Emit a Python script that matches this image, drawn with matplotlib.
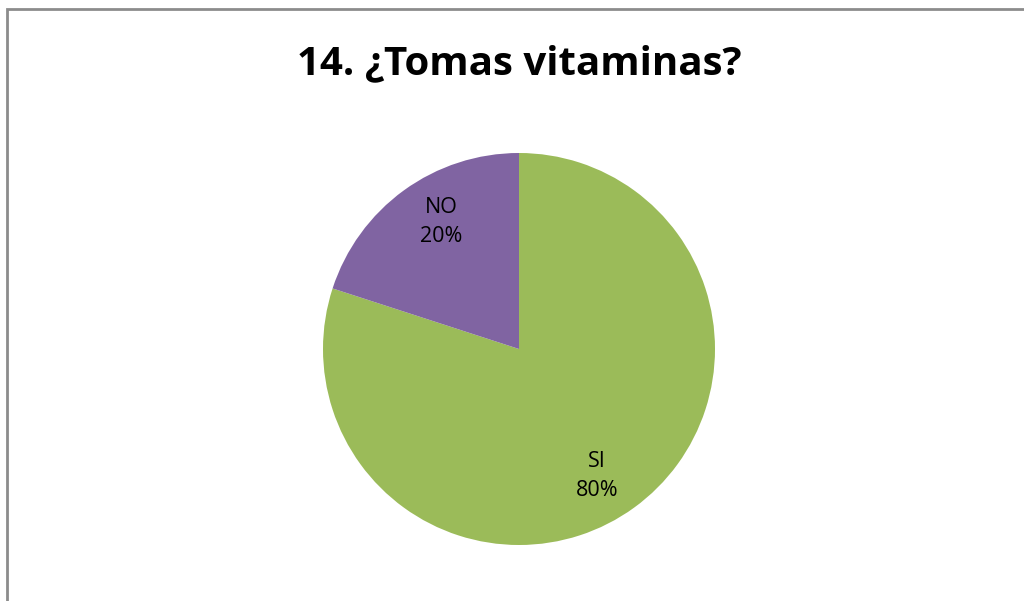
import numpy as np
import matplotlib.pyplot as plt
from matplotlib.patches import Rectangle

# Datos de la encuesta
categorias = ["SI", "NO"]
valores = [80, 20]
colores = ["#9BBB59", "#8064A2"]
titulo = "14. ¿Tomas vitaminas?"

plt.rcParams['font.family'] = ['Open Sans', 'DejaVu Sans']

fig = plt.figure(figsize=(10.24, 6.01), dpi=100)
W, H = 1024, 601

# Marco gris del grafico
marco = Rectangle((7 / W, -0.1), 1.2, 1.1 - 9 / H, transform=fig.transFigure,
                  fill=False, edgecolor="#8c8c8c", linewidth=2)
fig.patches.append(marco)

# Ejes del pastel: centro (519, 349), radio 196 px
cx, cy, r = 519, 349, 196
ax = fig.add_axes([(cx - r) / W, (H - cy - r) / H, 2 * r / W, 2 * r / H])
wedges, texts, autotexts = ax.pie(valores, colors=colores, startangle=90,
                                  counterclock=False, autopct='%1.0f%%',
                                  pctdistance=0.76, radius=1.0)
# Etiquetas un poco giradas, como en Excel
giro = np.deg2rad(-4.5)
for t, lab in zip(autotexts, categorias):
    t.set_text(f"{lab}\n{t.get_text()}")
    t.set_fontsize(15.5)
    t.set_linespacing(1.45)
    x, y = t.get_position()
    t.set_position((x * np.cos(giro) - y * np.sin(giro),
                    x * np.sin(giro) + y * np.cos(giro)))
ax.set_xlim(-1, 1)
ax.set_ylim(-1, 1)
ax.set_aspect('equal')
ax.axis('off')

fig.text(519 / W, 1 - 64 / H, titulo, ha='center', va='center',
         fontsize=29, fontweight='bold')

plt.savefig("out.png", dpi=100)
